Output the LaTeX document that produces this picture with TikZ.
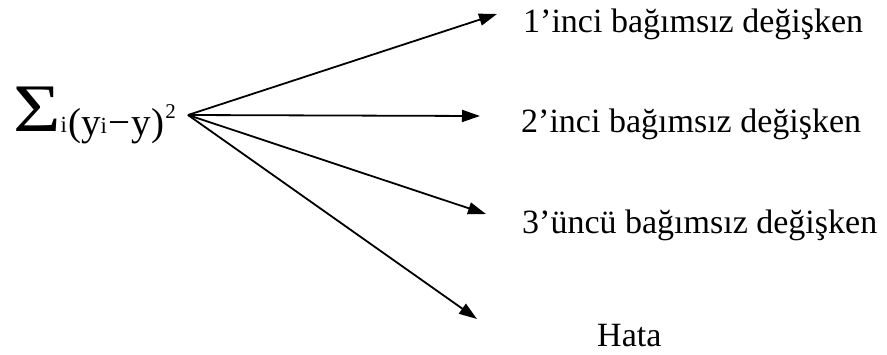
\documentclass[tikz,border=0pt]{standalone}
\usepackage{fontspec}
\setmainfont{Liberation Serif}
\usetikzlibrary{arrows.meta}

\tikzset{
  label text/.style={anchor=base west, inner sep=0pt, font=\fontsize{34}{40}\selectfont},
  branch/.style={line width=1.8pt, -{Triangle[length=18pt,width=12pt]}},
}
\newcommand{\smallsz}[1]{{\fontsize{23}{23}\selectfont #1}}

\begin{document}
\begin{tikzpicture}[x=1pt, y=-1pt]
  \useasboundingbox (0,0) rectangle (887,354);

  % sum of squared deviations
  \node[anchor=base west, inner sep=0pt, font=\fontsize{39}{46}\selectfont] (sum) at (13,135)
    {\raisebox{4pt}{\scalebox{1.2}[1]{\fontsize{68}{68}\selectfont Σ}}\raisebox{3pt}{\smallsz{i}}\hspace{1pt}(y\raisebox{2pt}{\smallsz{i}}\hspace{2pt}−\hspace{1pt}y)\hspace{1pt}\raisebox{17pt}{\fontsize{21}{21}\selectfont 2}};

  % branch point and arrow tips
  \coordinate (hub) at (188,115);
  \coordinate (t1) at (497,14);
  \coordinate (t2) at (480,116);
  \coordinate (t3) at (486,214);
  \coordinate (t4) at (477,319);

  % component labels
  \node[label text] (v1) at (523,32) {1’inci bağımsız değişken};
  \node[label text] (v2) at (521,132) {2’inci bağımsız değişken};
  \node[label text] (v3) at (522,233) {3’üncü bağımsız değişken};
  \node[label text] (err) at (597,346) {Hata};

  % arrows
  \draw[branch] (hub) -- (t1);
  \draw[branch] (hub) -- (t2);
  \draw[branch] (hub) -- (t3);
  \draw[branch] (hub) -- (t4);
\end{tikzpicture}
\end{document}
